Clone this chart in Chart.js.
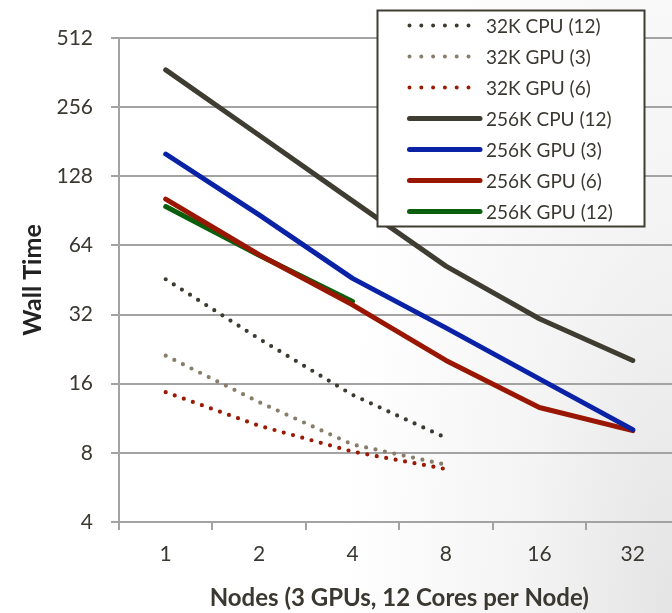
<!DOCTYPE html>
<html>
<head>
<meta charset="utf-8">
<script src="https://cdn.jsdelivr.net/npm/chart.js@4"></script>
<style>
  html, body { margin: 0; padding: 0; overflow: hidden; }
  body {
    width: 672px; height: 613px;
    background: radial-gradient(ellipse 330px 900px at 100% 100%, #e4e4e4 0%, #f4f4f4 45%, #ffffff 100%);
  }
  #chart { position: absolute; left: 0; top: 0; }
</style>
</head>
<body>
<canvas id="chart" width="690" height="613"></canvas>
<script>
// nodes on the x axis
const nodes = ['1', '2', '4', '8', '16', '32'];
const yTicks = [4, 8, 16, 32, 64, 128, 256, 512];

// wall times
const cpu32k12 = [45.6, 25.1, 14.3, 9.3, null, null];
const gpu32k3 = [21.2, 13.3, 8.7, 7.1, null, null];
const gpu32k6 = [14.7, 10.5, 8.1, 6.8, null, null];
const cpu256k12 = [372, 193, 100, 52, 30.7, 20.2];
const gpu256k3 = [160, 87, 46, 28, 16.8, 10.1];
const gpu256k6 = [101.8, 58.3, 35.3, 20.2, 12.6, 10.0];
const gpu256k12 = [94.5, 58, 36.5, null, null, null];

const textColor = '#3a3830';
const gridColor = '#a3a3a3';
const fontFamily = 'Lato, "Open Sans", sans-serif';

function dotted(label, data, color) {
  return {
    label: label, data: data, borderColor: color, backgroundColor: color,
    borderWidth: 4.2, borderDash: [0, 9.6], borderCapStyle: 'round',
    pointRadius: 0, tension: 0, spanGaps: false
  };
}
function solid(label, data, color) {
  return {
    label: label, data: data, borderColor: color, backgroundColor: color,
    borderWidth: 5, borderCapStyle: 'round', borderJoinStyle: 'round',
    pointRadius: 0, tension: 0, spanGaps: false
  };
}

// boxed legend that sits over the plot, top right
const legendBox = {
  id: 'legendBox',
  afterDraw(chart) {
    const ctx = chart.ctx;
    ctx.save();
    ctx.fillStyle = '#ffffff';
    ctx.fillRect(377.5, 10.5, 267, 216);
    ctx.strokeStyle = '#403d33';
    ctx.lineWidth = 2;
    ctx.strokeRect(377.5, 10.5, 267, 216);
    ctx.font = '19px ' + fontFamily;
    ctx.textBaseline = 'middle';
    ctx.textAlign = 'left';
    chart.data.datasets.forEach((ds, i) => {
      const y = 25.5 + i * 31;
      ctx.beginPath();
      ctx.strokeStyle = ds.borderColor;
      ctx.lineCap = 'round';
      if (ds.borderDash) {
        ctx.lineWidth = 4;
        ctx.setLineDash([0, 11.8]);
      } else {
        ctx.lineWidth = 5;
        ctx.setLineDash([]);
      }
      ctx.moveTo(409.5, y);
      ctx.lineTo(480, y);
      ctx.stroke();
      ctx.fillStyle = textColor;
      ctx.fillText(ds.label, 486, y + 1);
    });
    ctx.restore();
  }
};

new Chart(document.getElementById('chart'), {
  type: 'line',
  data: {
    labels: nodes,
    datasets: [
      dotted('32K CPU (12)', cpu32k12, '#3d3a30'),
      dotted('32K GPU (3)', gpu32k3, '#877d6a'),
      dotted('32K GPU (6)', gpu32k6, '#9a1a06'),
      solid('256K CPU (12)', cpu256k12, '#3f3c31'),
      solid('256K GPU (3)', gpu256k3, '#0a22a6'),
      solid('256K GPU (6)', gpu256k6, '#991602'),
      solid('256K GPU (12)', gpu256k12, '#0a5f0c')
    ]
  },
  options: {
    responsive: false,
    animation: false,
    layout: { padding: { top: 38, right: 10.5, bottom: 0, left: 0 } },
    plugins: {
      legend: { display: false },
      tooltip: { enabled: false }
    },
    scales: {
      x: {
        type: 'category',
        offset: true,
        afterFit(scale) { scale.height = 91; },
        grid: {
          offset: true, drawOnChartArea: false, drawTicks: true,
          tickLength: 8, color: gridColor, lineWidth: 2
        },
        border: { display: true, color: gridColor, width: 2 },
        ticks: {
          color: textColor, padding: 12,
          font: { family: fontFamily, size: 21 }
        },
        title: {
          display: true, text: 'Nodes (3 GPUs, 12 Cores per Node)',
          color: textColor, padding: { top: 0, bottom: 0 },
          font: { family: fontFamily, size: 24, weight: 'bold' }
        }
      },
      y: {
        type: 'logarithmic',
        min: 4, max: 512,
        afterFit(scale) { scale.width = 119; },
        afterBuildTicks(scale) { scale.ticks = yTicks.map(v => ({ value: v })); },
        grid: { color: gridColor, lineWidth: 2, tickLength: 8 },
        border: { display: true, color: gridColor, width: 2 },
        ticks: {
          color: textColor, padding: 18,
          font: { family: fontFamily, size: 21 },
          callback: v => String(v)
        },
        title: {
          display: true, text: 'Wall Time', color: '#222222',
          padding: { top: 18, bottom: 0 },
          font: { family: fontFamily, size: 25, weight: 'bold' }
        }
      }
    }
  },
  plugins: [legendBox]
});
</script>
</body>
</html>
